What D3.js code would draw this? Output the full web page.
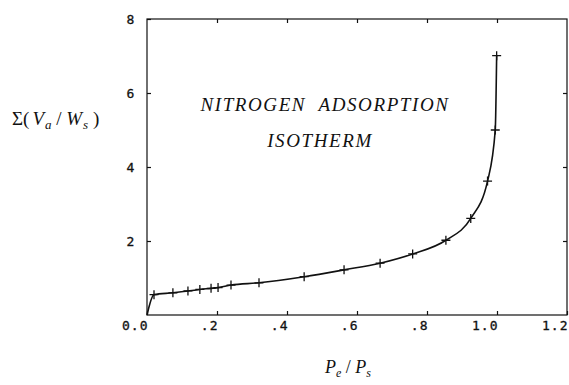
<!DOCTYPE html>
<html>
<head>
<meta charset="utf-8">
<script src="https://cdn.jsdelivr.net/npm/d3@7"></script>
<style>
body{margin:0;background:#fff;}
.tick text{font-family:"DejaVu Sans Mono",monospace;font-size:13px;fill:#111;letter-spacing:1px;stroke:#111;stroke-width:0.3px;}
.ttl{font-family:"Liberation Serif",serif;font-style:italic;font-size:19px;fill:#111;letter-spacing:1.6px;white-space:pre;}
</style>
</head>
<body>
<div id="chart"></div>
<script>
// nitrogen adsorption isotherm
let relPressure=[0,0.02,0.074,0.117,0.151,0.183,0.203,0.24,0.32,0.449,0.563,0.666,0.759,0.854,0.925,0.973,0.995,0.999];
let adsorbed=[0,0.55,0.60,0.65,0.69,0.72,0.74,0.81,0.87,1.035,1.22,1.40,1.65,2.02,2.61,3.62,5.0,7.01];
let xTicks=[0,0.2,0.4,0.6,0.8,1.0,1.2];
let xTickLabels=['0.0','.2','.4','.6','.8','1.0','1.2'];
let yTicks=[2,4,6,8];
let yTickLabels=['2','4','6','8'];

let width=569,height=385;
let pLeft=147,pRight=567,pTop=19,pBottom=315;

let svg=d3.select('#chart').append('svg').attr('width',width).attr('height',height);

let x=d3.scaleLinear().domain([0,1.2]).range([pLeft,pRight]);
let y=d3.scaleLinear().domain([0,8]).range([pBottom,pTop]);

// frame
svg.append('rect').attr('x',pLeft).attr('y',pTop).attr('width',pRight-pLeft).attr('height',pBottom-pTop)
  .attr('fill','none').attr('stroke','#111').attr('stroke-width',1.2);

// axes with inward ticks
let xAxis=svg.append('g').attr('transform','translate(0,'+pBottom+')')
  .call(d3.axisBottom(x).tickValues(xTicks).tickSizeInner(-4).tickSizeOuter(0).tickPadding(6)
  .tickFormat((d,i)=>xTickLabels[i]));
xAxis.selectAll('text').attr('text-anchor','end').attr('dx','1px');
svg.append('g').attr('transform','translate(0,'+pTop+')')
  .call(d3.axisTop(x).tickValues(xTicks.slice(1,6)).tickSizeInner(-4).tickSizeOuter(0).tickFormat(''));

let yAxis=svg.append('g').attr('transform','translate('+pLeft+',0)')
  .call(d3.axisLeft(y).tickValues(yTicks).tickSizeInner(-4).tickSizeOuter(0).tickPadding(12)
  .tickFormat((d,i)=>yTickLabels[i]));
yAxis.selectAll('text').attr('text-anchor','middle').attr('x',-16);
svg.append('g').attr('transform','translate('+pRight+',0)')
  .call(d3.axisRight(y).tickValues(yTicks.slice(0,3)).tickSizeInner(-4).tickSizeOuter(0).tickFormat(''));

svg.selectAll('.domain').remove();
svg.selectAll('.tick line').attr('stroke','#111').attr('stroke-width',1.2);

// curve
let line=d3.line().x(d=>x(d[0])).y(d=>y(d[1])).curve(d3.curveMonotoneX);
let pts=relPressure.map((p,i)=>[p,adsorbed[i]]);
svg.append('path').datum(pts).attr('d',line).attr('fill','none').attr('stroke','#111').attr('stroke-width',1.6);

// plus markers
let m=4.5;
svg.selectAll('.mk').data(pts.slice(1)).enter().append('path').attr('class','mk')
  .attr('d',d=>{let cx=x(d[0]),cy=y(d[1]);return 'M'+(cx-m)+','+cy+'H'+(cx+m)+'M'+cx+','+(cy-m)+'V'+(cy+m);})
  .attr('stroke','#111').attr('stroke-width',1.3);

// title
svg.append('text').attr('class','ttl').attr('x',325).attr('y',111).attr('text-anchor','middle').text('NITROGEN  ADSORPTION');
svg.append('text').attr('class','ttl').attr('x',320).attr('y',147).attr('text-anchor','middle').text('ISOTHERM');

// y label
let yl=svg.append('text').attr('x',12).attr('y',125).style('white-space','pre')
  .attr('font-family','Liberation Serif').attr('font-size',19).attr('fill','#111');
yl.append('tspan').text('Σ(');
yl.append('tspan').attr('font-style','italic').attr('dx',3).text('V');
yl.append('tspan').attr('font-style','italic').attr('font-size',13).attr('dy',4).attr('dx',1).text('a');
yl.append('tspan').attr('dy',-4).text(' / ');
yl.append('tspan').attr('font-style','italic').text('W');
yl.append('tspan').attr('font-style','italic').attr('font-size',13).attr('dy',4).attr('dx',1).text('s');
yl.append('tspan').attr('dy',-4).text(' )');

// x label
let xl=svg.append('text').attr('x',325).attr('y',373).style('white-space','pre')
  .attr('font-family','Liberation Serif').attr('font-size',18).attr('fill','#111');
xl.append('tspan').attr('font-style','italic').text('P');
xl.append('tspan').attr('font-style','italic').attr('font-size',12).attr('dy',4).text('e');
xl.append('tspan').attr('dy',-4).text(' / ');
xl.append('tspan').attr('font-style','italic').text('P');
xl.append('tspan').attr('font-style','italic').attr('font-size',12).attr('dy',4).text('s');
</script>
</body>
</html>
